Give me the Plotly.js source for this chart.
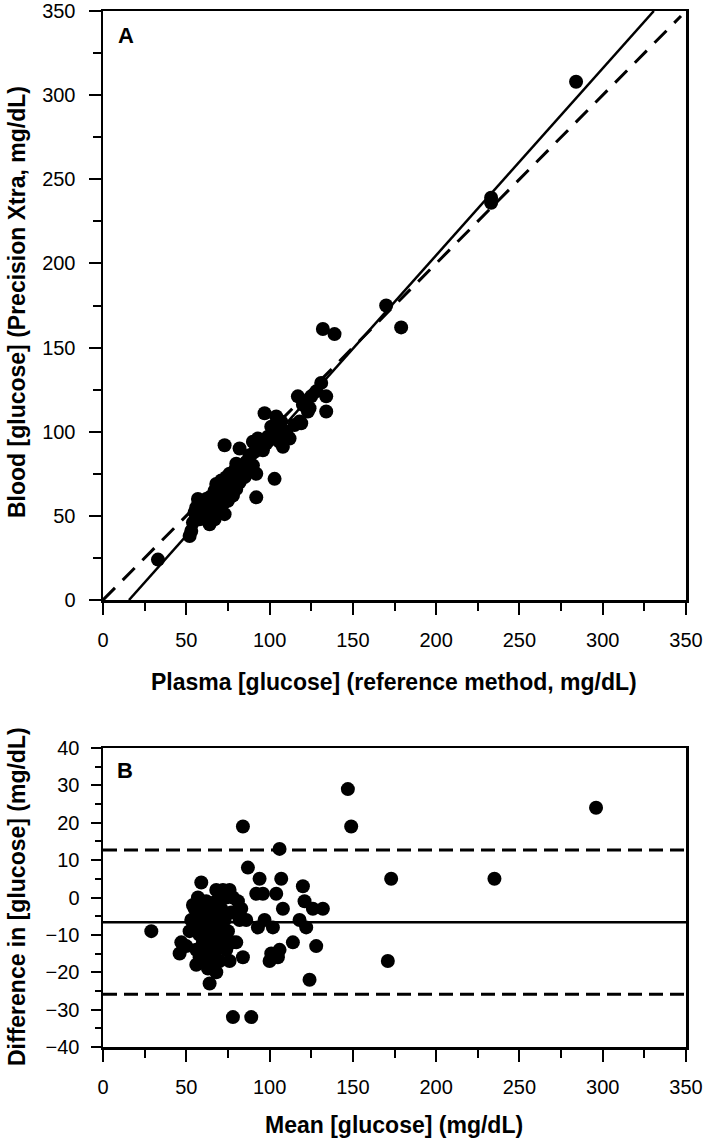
<!DOCTYPE html>
<html><head><meta charset="utf-8">
<script src="https://cdn.plot.ly/plotly-3.0.1.min.js"></script>
<style>html,body{margin:0;padding:0;background:#fff}#chart{width:709px;height:1142px}</style>
</head><body><div id="chart"></div>
<script>
// Panel A: plasma reference (x) vs blood meter (y), mg/dL
const plasmaRef = [33,52,53,54,55,56,56,57,58,58,59,60,60,61,61,62,62,63,63,64,64,64,65,65,65,66,66,67,67,67,68,68,68,68,69,69,70,70,70,71,71,72,72,73,73,73,74,74,75,75,76,76,77,78,78,79,80,80,81,82,82,73,84,85,86,87,88,90,90,91,92,92,93,94,95,96,97,98,99,100,101,102,103,104,105,106,107,108,108,110,111,112,115,117,118,119,120,122,123,124,125,128,131,134,134,132,139,170,179,233,233,284];
const bloodMeter = [24,38,41,46,52,50,55,60,48,53,57,51,55,49,58,53,60,47,55,45,57,61,50,53,58,55,62,48,60,65,52,56,63,69,58,66,54,61,68,64,71,57,67,51,62,70,66,73,59,69,63,75,68,62,72,77,66,81,74,70,90,92,78,73,82,76,86,80,94,88,61,75,96,90,95,89,111,93,97,95,103,99,72,109,102,94,106,91,98,100,97,96,104,121,106,105,116,118,112,114,121,124,129,121,112,161,158,175,162,236,239,308];
// Panel B: Bland-Altman, mean (x) vs difference (y)
const meanGlucose = [29,46,47,50,52,53,54,55,55,56,56,57,57,58,58,59,59,60,60,61,61,61,62,62,62,63,63,64,64,64,65,65,66,66,66,67,67,68,68,68,69,69,70,70,70,71,72,72,73,74,74,75,76,76,77,78,78,78,80,81,82,83,84,84,86,87,89,92,93,94,96,97,100,101,102,104,105,106,106,107,108,114,118,120,121,122,124,126,128,132,147,149,171,173,235,296];
const diffGlucose = [-9,-15,-12,-13,-9,-6,-2,-3,-8,-14,-18,-5,0,-10,-16,4,-7,-2,-12,-17,-9,-4,-6,-14,-1,-11,-19,-7,-16,-23,-3,-13,-9,-18,-5,-15,-11,2,-1,-20,-6,-13,-8,-17,1,-3,-11,2,-6,-14,0,-9,-17,2,-4,0,-12,-32,-12,-1,-6,-3,-16,19,-6,8,-32,1,-8,5,1,-6,-17,-15,-8,1,-16,13,-14,5,-3,-12,-6,3,-1,-8,-22,-3,-13,-3,29,19,-17,5,5,24];
// Reference lines
const identityX = [0, 347], identityY = [0, 347];
const regressionX = [15.6, 330.7], regressionY = [0, 350];
const meanDiff = -6.6, upperLoA = 12.7, lowerLoA = -25.9;
const lineSpanX = [0, 350];
const xTickVals = [0,50,100,150,200,250,300,350];
const yTickValsA = [0,50,100,150,200,250,300,350];
const yTickValsB = [-40,-30,-20,-10,0,10,20,30,40];

const W = 709, H = 1142;
const px = v => v / W, py = v => 1 - v / H;
const FONT = 'Liberation Sans, Arial, Helvetica, sans-serif';
const mk = {color: '#000', size: 14};

const traces = [
  {x: identityX, y: identityY, mode: 'lines', line: {color: '#000', width: 3, dash: '17px,11px'}, xaxis: 'x', yaxis: 'y', hoverinfo: 'skip'},
  {x: regressionX, y: regressionY, mode: 'lines', line: {color: '#000', width: 2.5}, xaxis: 'x', yaxis: 'y', hoverinfo: 'skip'},
  {x: plasmaRef, y: bloodMeter, mode: 'markers', marker: mk, xaxis: 'x', yaxis: 'y'},
  {x: lineSpanX, y: [upperLoA, upperLoA], mode: 'lines', line: {color: '#000', width: 3, dash: '14px,7px'}, xaxis: 'x2', yaxis: 'y2', hoverinfo: 'skip'},
  {x: lineSpanX, y: [meanDiff, meanDiff], mode: 'lines', line: {color: '#000', width: 2.5}, xaxis: 'x2', yaxis: 'y2', hoverinfo: 'skip'},
  {x: lineSpanX, y: [lowerLoA, lowerLoA], mode: 'lines', line: {color: '#000', width: 3, dash: '14px,7px'}, xaxis: 'x2', yaxis: 'y2', hoverinfo: 'skip'},
  {x: meanGlucose, y: diffGlucose, mode: 'markers', marker: mk, xaxis: 'x2', yaxis: 'y2'}
];

const axBase = {
  showgrid: false, zeroline: false, showline: true, mirror: true, linecolor: '#000', linewidth: 2.5,
  ticks: 'outside', ticklen: 12, tickwidth: 2, tickcolor: '#000', ticklabeloverflow: 'allow',
  tickfont: {family: FONT, size: 20, color: '#000'}, fixedrange: true
};
const minorTicks = d => ({ticks: 'outside', ticklen: 8, tickwidth: 2, tickcolor: '#000', dtick: d, tick0: 0});
const xDom = [px(103), px(686)];
const ann = (text, x, y, size, angle) => ({text: text, x: px(x), y: py(y), xref: 'paper', yref: 'paper', xanchor: 'center', yanchor: 'middle',
  showarrow: false, textangle: angle || 0, font: {family: FONT, size: size, color: '#000'}});
const layout = {
  width: W, height: H, margin: {l: 0, r: 0, t: 0, b: 0},
  paper_bgcolor: '#fff', plot_bgcolor: '#fff', showlegend: false,
  xaxis: Object.assign({}, axBase, {domain: xDom, range: [0, 350], tickvals: xTickVals, anchor: 'y', ticklabelstandoff: 8, minor: minorTicks(25)}),
  yaxis: Object.assign({}, axBase, {domain: [py(600), py(11)], range: [0, 350], tickvals: yTickValsA, anchor: 'x', ticklabelstandoff: 9, minor: minorTicks(25)}),
  xaxis2: Object.assign({}, axBase, {domain: xDom, range: [0, 350], tickvals: xTickVals, anchor: 'y2', ticklabelstandoff: 8, minor: minorTicks(25)}),
  yaxis2: Object.assign({}, axBase, {domain: [py(1047), py(748)], range: [-40, 40], tickvals: yTickValsB, anchor: 'x2', ticklen: 10, ticklabelstandoff: 7,
    minor: Object.assign(minorTicks(5), {ticklen: 6})}),
  annotations: [
    ann('<b>A</b>', 126, 36, 22),
    ann('<b>B</b>', 125, 770, 22),
    ann('<b>Plasma [glucose] (reference method, mg/dL)</b>', 394, 682, 23),
    ann('<b>Mean [glucose] (mg/dL)</b>', 394, 1125, 23),
    ann('<b>Blood [glucose] (Precision Xtra, mg/dL)</b>', 17, 302, 23, -90),
    ann('<b>Difference in [glucose] (mg/dL)</b>', 17, 897, 23, -90)
  ]
};
Plotly.newPlot('chart', traces, layout, {displayModeBar: false, staticPlot: true});
</script></body></html>
